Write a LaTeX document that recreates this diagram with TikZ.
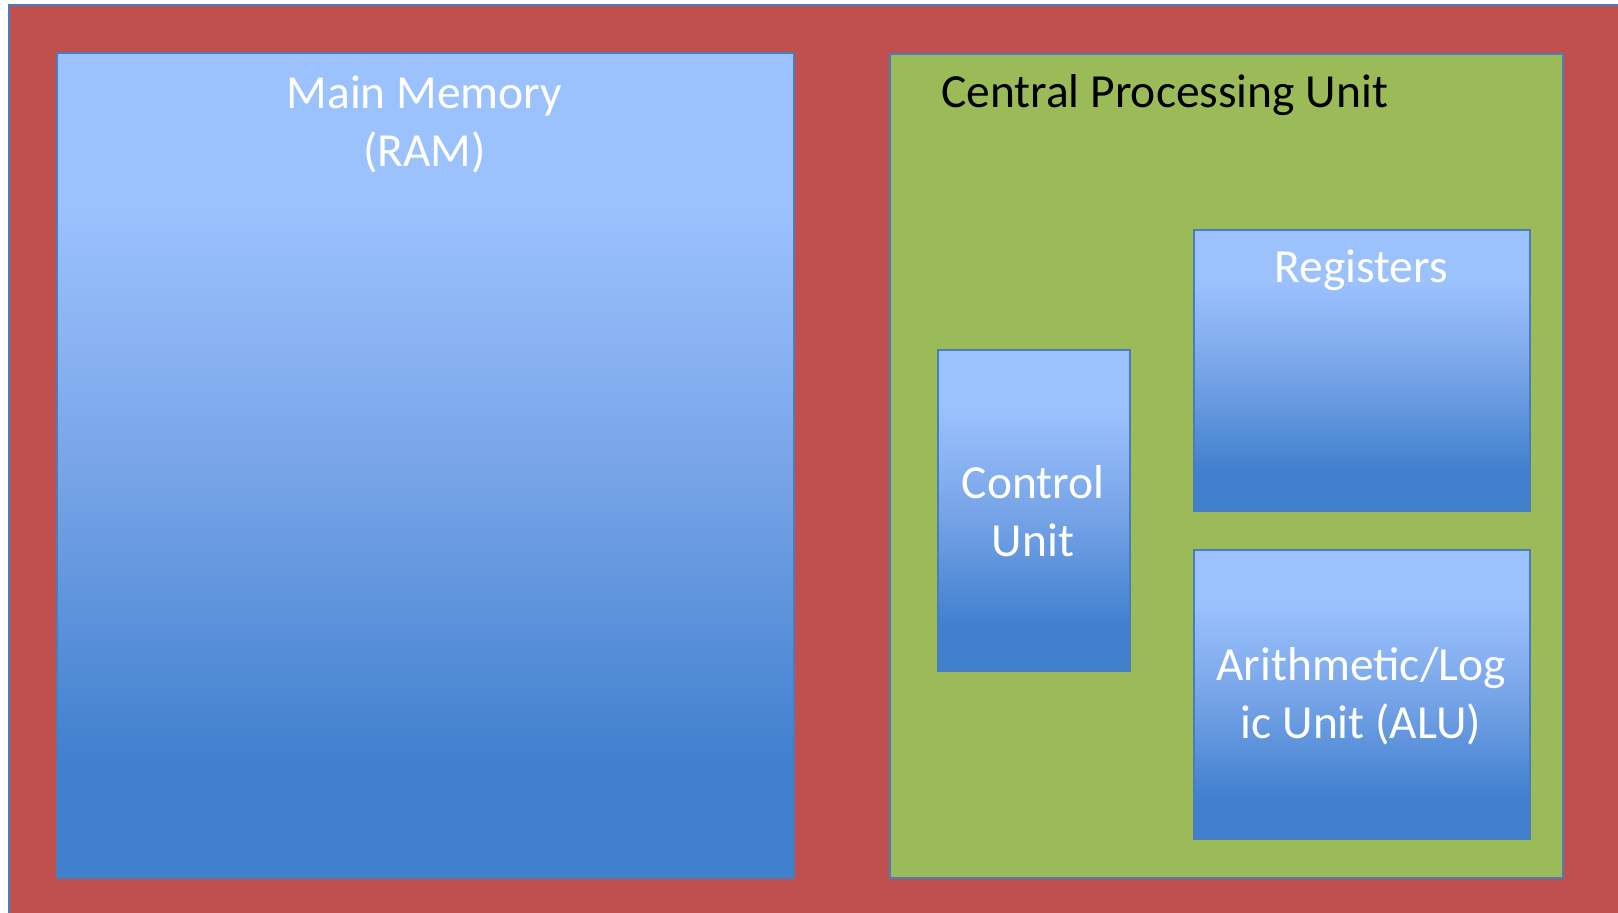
\documentclass[tikz,border=0pt]{standalone}
\usepackage{fontspec}
\setmainfont{Carlito}
\definecolor{bgred}{HTML}{C0504D}
\definecolor{cpugreen}{HTML}{9BBB59}
\definecolor{edgeblue}{HTML}{4A7EBB}
\definecolor{gradlight}{HTML}{9CC2FE}
\definecolor{gradmid}{HTML}{78A5E8}
\definecolor{graddark}{HTML}{4080CE}
\pgfdeclareverticalshading{boxgrad}{100bp}{color(0bp)=(graddark); color(32bp)=(graddark); color(50bp)=(gradmid); color(66bp)=(gradlight); color(100bp)=(gradlight)}
\tikzset{
  bluebox/.style={draw=edgeblue, line width=1.8pt, shading=boxgrad, anchor=north west, inner sep=0pt},
  greenbox/.style={draw=edgeblue, line width=1.8pt, fill=cpugreen, anchor=north west, inner sep=0pt},
  wlabel/.style={text=white, align=center, font=\fontsize{47.5}{58}\selectfont},
  blabel/.style={text=black, font=\fontsize{47.5}{58}\selectfont}
}
\begin{document}
\begin{tikzpicture}[x=1pt,y=-1pt]
\useasboundingbox (0,0) rectangle (1618,913);
\fill[white] (0,0) rectangle (1618,913);
\node[draw=edgeblue, line width=1.8pt, fill=bgred, anchor=north west, minimum width=1640, minimum height=940, inner sep=0pt] (outer) at (8,4) {};
\node[bluebox, minimum width=737, minimum height=825] (ram) at (56,52) {};
\node[greenbox, minimum width=673, minimum height=824] (cpu) at (889,53) {};
\node[bluebox, minimum width=192, minimum height=321] (cu) at (937,349) {};
\node[bluebox, minimum width=336, minimum height=281] (reg) at (1193,229) {};
\node[bluebox, minimum width=336, minimum height=289] (alu) at (1193,549) {};
\node[wlabel] (ramlabel) at (424.5,124) {Main Memory\\(RAM)};
\node[blabel, anchor=base west, inner sep=0pt] (cpulabel) at (941,107) {Central Processing Unit};
\node[wlabel] (culabel) at (1033,511) {Control\\Unit};
\node[wlabel] (reglabel) at (1361,270) {Registers};
\node[wlabel] (alulabel) at (1361,696) {Arithmetic/Log\\ic Unit (ALU)};
\end{tikzpicture}
\end{document}
